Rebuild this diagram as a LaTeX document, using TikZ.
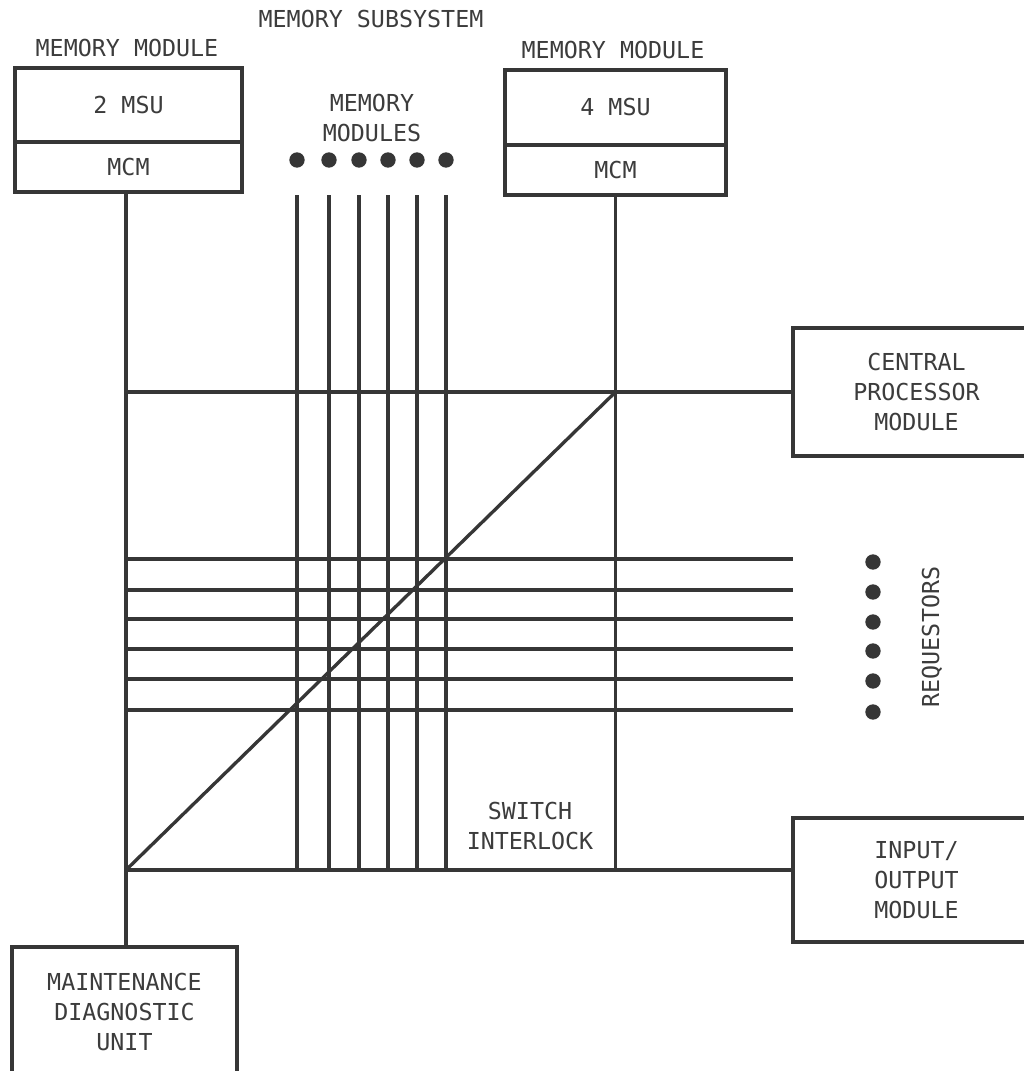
\documentclass[tikz,border=0pt]{standalone}
\usepackage{fontspec}
\newfontfamily\monof{DejaVu Sans Mono}
\definecolor{ink}{HTML}{363636}
\definecolor{txt}{HTML}{3C3C3C}
\begin{document}
\begin{tikzpicture}[x=0.75pt,y=-0.75pt,
  line width=2.5pt, draw=ink,
  lbl/.style={text=txt, font=\monof\fontsize{17.5}{22.5}\selectfont, align=center, inner sep=0pt},
  box/.style={lbl, draw=ink, line width=2.5pt, rectangle},
  dotn/.style={circle, fill=ink, draw=none, minimum size=11.5pt, inner sep=0pt},
  wire/.style={draw=ink, line width=2.5pt}]
\clip (0,0) rectangle (1024,1071);
\fill[white] (0,0) rectangle (1024,1071);

% titles
\node[lbl] (title) at (371,19) {MEMORY SUBSYSTEM};
\node[lbl] (mm1lbl) at (127,48) {MEMORY MODULE};
\node[lbl] (mm2lbl) at (613,50) {MEMORY MODULE};
\node[lbl] (mmods) at (372,118) {MEMORY\\MODULES};

% memory module boxes
\node[box, minimum width=170.25pt, minimum height=55.5pt] (mm1t) at (128.5,105) {2 MSU};
\node[box, minimum width=170.25pt, minimum height=37.5pt] (mm1b) at (128.5,167) {MCM};
\node[box, minimum width=165.75pt, minimum height=56.25pt] (mm2t) at (615.5,107.5) {4 MSU};
\node[box, minimum width=165.75pt, minimum height=37.5pt] (mm2b) at (615.5,170) {MCM};

% other boxes
\node[box, minimum width=185.25pt, minimum height=96pt] (cpm) at (916.5,392) {CENTRAL\\PROCESSOR\\MODULE};
\node[box, minimum width=185.25pt, minimum height=93pt] (iom) at (916.5,880) {INPUT/\\OUTPUT\\MODULE};
\node[box, minimum width=168.75pt, minimum height=103.5pt] (mdu) at (124.5,1016) {};
\node[lbl] (mdut) at (124.5,1012) {MAINTENANCE\\DIAGNOSTIC\\UNIT};

\node[lbl] (sw) at (530,826) {SWITCH\\INTERLOCK};
\node[lbl, rotate=90] (req) at (932,637) {REQUESTORS};

% memory module dots and top points
\foreach \i/\x in {1/297,2/329,3/359,4/388,5/417,6/446}{
  \node[dotn] (d\i) at (\x,160) {};
  \coordinate (t\i) at (\x,195);
}
% requestor dots and line ends
\foreach \i/\y/\ly in {1/562/559,2/592/590,3/622/619,4/651/649,5/681/679,6/712/710}{
  \node[dotn] (q\i) at (873,\y) {};
  \coordinate (r\i) at (793,\ly);
}

\coordinate (BL) at (126,870);

% buses
\draw[wire] (mm1b.south -| BL) -- (mdu.north -| BL);
\draw[wire] (mm2b.south) -- (mm2b.south |- BL);
\draw[wire] (cpm.west -| BL) -- (cpm.west);
\draw[wire] (BL) -- (BL -| iom.west);
\draw[wire] (BL) -- (cpm.west -| mm2b.south);
\foreach \i in {1,...,6}{
  \draw[wire] (t\i) -- (t\i |- BL);
  \draw[wire] (r\i -| BL) -- (r\i);
}
\end{tikzpicture}
\end{document}
